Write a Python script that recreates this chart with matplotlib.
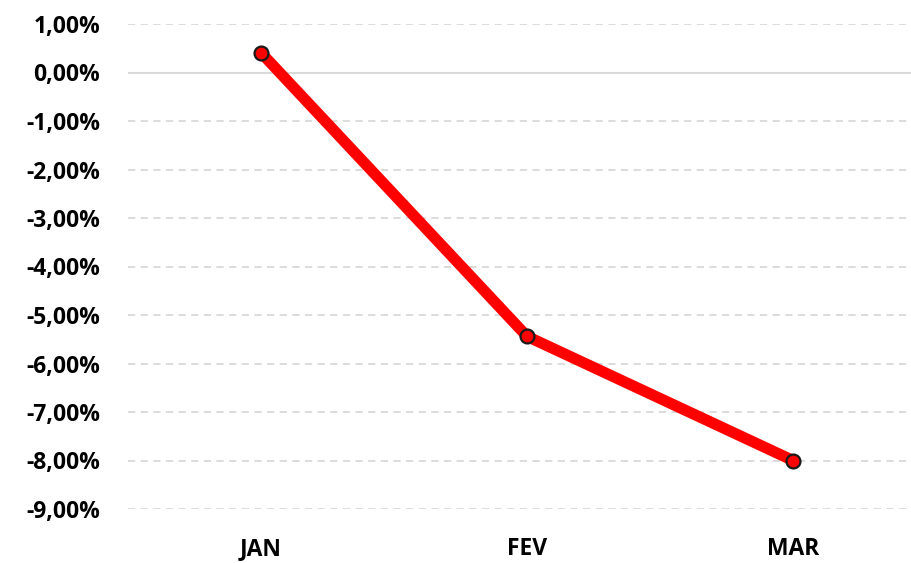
import matplotlib
matplotlib.use("Agg")
import matplotlib.pyplot as plt
from matplotlib.ticker import FuncFormatter

categories = ["JAN", "FEV", "MAR"]
values = [0.41, -5.44, -8.0]  # percent
yticks = [1, 0, -1, -2, -3, -4, -5, -6, -7, -8, -9]

plt.rcParams['font.family'] = ['Open Sans', 'DejaVu Sans']

fig = plt.figure(figsize=(9.11, 5.63), dpi=100)
W, H = 911, 563
ax = fig.add_axes([128 / W, 1 - 509 / H, (W - 128) / W, (509 - 24) / H])

x = list(range(len(categories)))
for yv in yticks:
    if yv == 0:
        ax.axhline(yv, color="#d9d9d9", lw=1.5, zorder=1)
    else:
        ax.axhline(yv, color="#d9d9d9", lw=1.3, ls=(0, (4, 3)), zorder=1)

ax.plot(x, values, color="#ff0000", lw=8, solid_capstyle="butt", zorder=3)
ax.plot(x, values, ls="none", marker="o", ms=10, mfc="#ff0000", mec="#1a1a1a", mew=1.6, zorder=4)

ax.set_xlim(-0.5, (W - 261) / 266)
ax.set_ylim(-9, 1)
ax.set_yticks(yticks)
ax.yaxis.set_major_formatter(FuncFormatter(lambda v, p: f"{v:.2f}%".replace(".", ",")))
ax.set_xticks(x)
ax.set_xticklabels(categories)
for s in ax.spines.values():
    s.set_visible(False)
ax.tick_params(axis="both", length=0, labelsize=16.5)
ax.tick_params(axis="y", pad=20)
ax.tick_params(axis="x", pad=20)
for lab in ax.get_xticklabels() + ax.get_yticklabels():
    lab.set_fontweight("bold")

fig.savefig("out.png", dpi=100)
